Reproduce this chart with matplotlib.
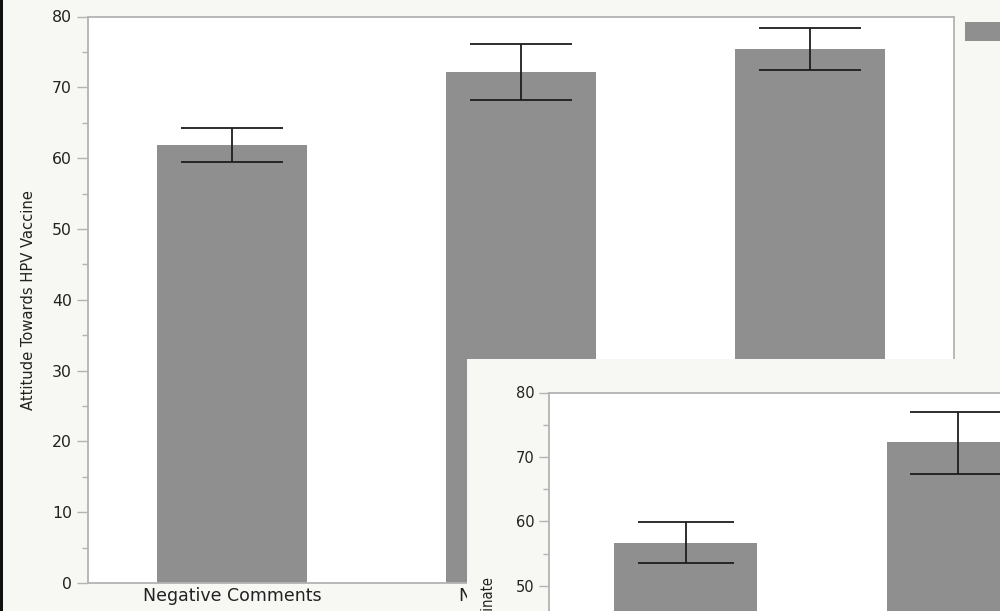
import matplotlib
matplotlib.use("Agg")
import matplotlib.pyplot as plt
from matplotlib.patches import Patch, Rectangle

# ---------------- data ----------------
categories = ["Negative Comments", "No Comments", "Positive Comments"]
attitude_mean = [61.9, 72.2, 75.4]
attitude_low = [59.5, 68.2, 72.4]
attitude_high = [64.3, 76.1, 78.4]

inset_categories = ["Negative Comments", "No Comments"]
intention_mean = [56.7, 72.3]
intention_low = [53.5, 67.3]
intention_high = [59.9, 77.0]

main_yticks = [0, 10, 20, 30, 40, 50, 60, 70, 80]
inset_yticks = [50, 60, 70, 80]

# ---------------- style ----------------
BG = "#f7f7f3"
BAR = "#8f8f8f"
SPINE = "#b3b3b3"
W, H = 1000, 611

fig = plt.figure(figsize=(W / 100, H / 100), dpi=100, facecolor=BG)

narrow = ["Liberation Sans Narrow", "DejaVu Sans"]


def style_axes(ax, major_len, minor_len, tick_fs):
    ax.set_facecolor("white")
    for s in ax.spines.values():
        s.set_color(SPINE)
        s.set_linewidth(1.3)
    ax.tick_params(axis="y", which="major", length=major_len, width=1.0,
                   color=SPINE, labelsize=tick_fs, pad=3.5, labelcolor="#222222")
    ax.tick_params(axis="y", which="minor", length=minor_len, width=1.0, color=SPINE)
    ax.tick_params(axis="x", length=0, pad=3, labelcolor="#222222")


def yerr_from(mean, low, high):
    return [[m - l for m, l in zip(mean, low)], [h - m for m, h in zip(mean, high)]]


# ---------------- main chart ----------------
ax = fig.add_axes([88 / W, (H - 583) / H, 866 / W, (583 - 16.5) / H])
x = list(range(len(categories)))
ax.bar(x, attitude_mean, width=0.52, color=BAR, zorder=2)
ax.errorbar(x, attitude_mean, yerr=yerr_from(attitude_mean, attitude_low, attitude_high),
            fmt="none", ecolor="#1e1e1e", elinewidth=1.3, capsize=36.4, capthick=1.3, zorder=3)
ax.set_xlim(-0.5, len(categories) - 0.5)
ax.set_ylim(0, 80)
ax.set_yticks(main_yticks)
ax.set_yticks([v + 5 for v in main_yticks[:-1]], minor=True)
ax.set_xticks(x)
ax.set_xticklabels(categories, fontsize=12.5, family="DejaVu Sans")
style_axes(ax, 8, 4.5, 11.3)
ax.set_ylabel("Attitude Towards HPV Vaccine", family=narrow, fontstretch="condensed",
              fontsize=11.8, color="#222222")
ax.yaxis.set_label_coords(-0.060, 0.5)

# cut-off legend key at the right edge
fig.legend(handles=[Patch(facecolor=BAR, edgecolor="none")], labels=["Mean"],
           loc="upper left", bbox_to_anchor=(965 / W, 1 - 22 / H),
           bbox_transform=fig.transFigure, frameon=False, borderpad=0,
           borderaxespad=0, handlelength=2.9, handleheight=1.75, fontsize=10)

# dark strip on the left edge
fig.add_artist(Rectangle((0, 0), 3 / W, 1, transform=fig.transFigure,
                         facecolor="#111111", edgecolor="none", zorder=10))

# ---------------- overlapping second chart ----------------
bg = fig.add_axes([467 / W, 0, (W - 467) / W, (H - 359) / H])
bg.set_facecolor(BG)
bg.set_xticks([])
bg.set_yticks([])
for s in bg.spines.values():
    s.set_visible(False)

px_per_unit = 6.44
inset_h = 80 * px_per_unit
ax2 = fig.add_axes([549 / W, (H - (392.5 + inset_h)) / H, 819 / W, inset_h / H])
x2 = list(range(len(inset_categories)))
ax2.bar(x2, intention_mean, width=0.524, color=BAR, zorder=2)
ax2.errorbar(x2, intention_mean, yerr=yerr_from(intention_mean, intention_low, intention_high),
             fmt="none", ecolor="#1e1e1e", elinewidth=1.3, capsize=34.4, capthick=1.3, zorder=3)
ax2.set_xlim(-0.5, 2.5)
ax2.set_ylim(0, 80)
ax2.set_yticks(inset_yticks)
ax2.set_yticks([v + 5 for v in inset_yticks[:-1]] + [45], minor=True)
ax2.set_xticks(x2)
ax2.set_xticklabels(inset_categories, fontsize=11.5, family="DejaVu Sans")
style_axes(ax2, 7.2, 4, 10.5)
ax2.set_ylabel("Intention to Vaccinate", family=narrow, fontstretch="condensed",
               fontsize=10.6, color="#222222")
ax2.yaxis.set_label_coords(-0.0647, 0.5)

fig.savefig("out.png", dpi=100, facecolor=BG)
